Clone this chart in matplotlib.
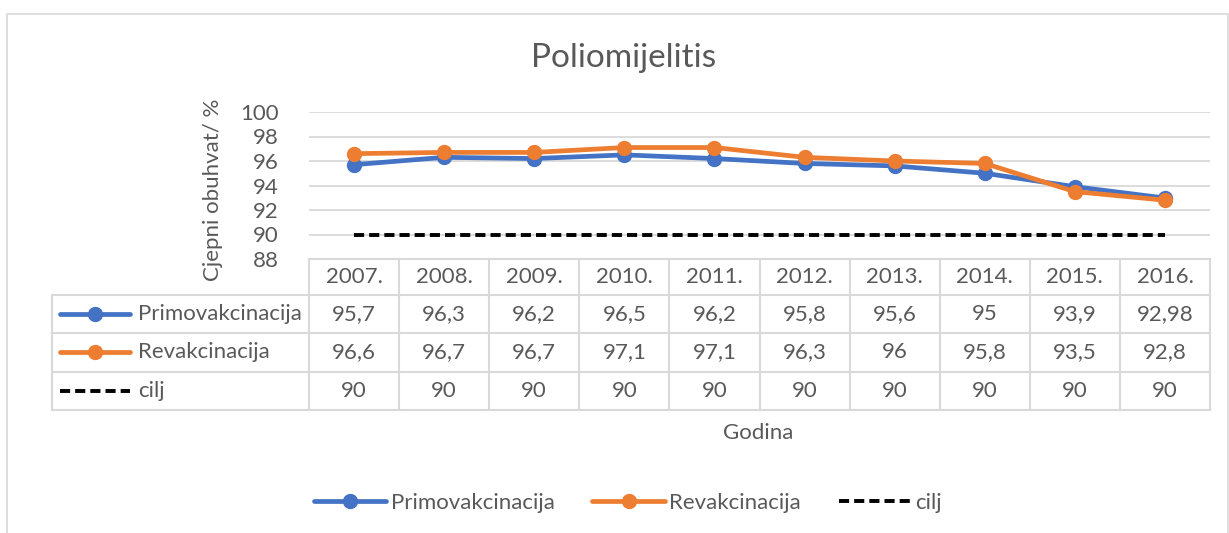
import numpy as np
import matplotlib
matplotlib.use('Agg')
import matplotlib.pyplot as plt
import matplotlib.transforms as mtransforms
from matplotlib.lines import Line2D
from matplotlib.patches import Rectangle

# data
years = ['2007.', '2008.', '2009.', '2010.', '2011.', '2012.', '2013.', '2014.', '2015.', '2016.']
primo = [95.7, 96.3, 96.2, 96.5, 96.2, 95.8, 95.6, 95.0, 93.9, 92.98]
revak = [96.6, 96.7, 96.7, 97.1, 97.1, 96.3, 96.0, 95.8, 93.5, 92.8]
cilj = [90, 90, 90, 90, 90, 90, 90, 90, 90, 90]
series_names = ['Primovakcinacija', 'Revakcinacija', 'cilj']

BLUE = '#4472C4'
ORANGE = '#ED7D31'
TXT = '#595959'
GRID = '#D9D9D9'
FS = 16

plt.rcParams['font.family'] = ['Lato', 'DejaVu Sans']

W, H = 1229, 533
fig = plt.figure(figsize=(W/100, H/100), dpi=100)

def fx(px):
    return px / W

def fy(py):
    return 1 - py / H

# outer chart border
fig.patches.append(Rectangle((fx(7), fy(560)), fx(1221), fy(14) - fy(560),
                             transform=fig.transFigure, fill=False,
                             edgecolor=GRID, lw=1.2))

ax = fig.add_axes([fx(309), fy(259), fx(1210) - fx(309), fy(112) - fy(259)])
x = np.arange(len(years))

DASH = (0, (2.6, 1.3))
ax.plot(x, primo, color=BLUE, lw=3.4, marker='o', ms=10, solid_capstyle='round', zorder=3)
ax.plot(x, revak, color=ORANGE, lw=3.4, marker='o', ms=10, solid_capstyle='round', zorder=4)
ax.plot(x, cilj, color='black', lw=2.8, ls=DASH, zorder=3)

ax.set_xlim(-0.5, len(years) - 0.5)
ax.set_ylim(88, 100)
ax.set_yticks(np.arange(88, 101, 2))
ax.set_xticks([])
ax.tick_params(axis='y', length=0, labelsize=FS, labelcolor=TXT, pad=22)
ax.grid(axis='y', color=GRID, lw=1.3)
ax.set_axisbelow(True)
for s in ax.spines.values():
    s.set_visible(False)

fig.text(fx(213), fy(190), 'Cjepni obuhvat/ %', rotation=90, ha='center', va='center',
         fontsize=FS, color=TXT)
fig.text(fx(624), fy(58), 'Poliomijelitis', ha='center', va='center', fontsize=24, color=TXT)
fig.text(fx(758), fy(433), 'Godina', ha='center', va='center', fontsize=FS, color=TXT)

# data table below the axes
tr = mtransforms.blended_transform_factory(ax.transData, ax.transAxes)
axh = 259 - 112
def ay(py):
    return (259 - py) / axh

row_edges = [259, 295, 333, 372, 410]
xl = (52 - 309) / 90.1 - 0.5
n = len(years)
lk = dict(color=GRID, lw=1.5, transform=tr, clip_on=False)
# horizontal lines
ax.plot([-0.5, n - 0.5], [ay(259)] * 2, **lk)
for py in row_edges[1:]:
    ax.plot([xl, n - 0.5], [ay(py)] * 2, **lk)
# vertical lines
for i in range(n + 1):
    ax.plot([i - 0.5] * 2, [ay(259), ay(410)], **lk)
ax.plot([xl] * 2, [ay(295), ay(410)], **lk)

rows = [primo, revak, cilj]
def fmt(v):
    s = ('%g' % v).replace('.', ',')
    return s
for i, yr in enumerate(years):
    ax.text(i, ay((259 + 295) / 2), yr, transform=tr, ha='center', va='center',
            fontsize=FS, color=TXT, clip_on=False)
    for r, vals in enumerate(rows):
        ax.text(i, ay((row_edges[r + 1] + row_edges[r + 2]) / 2), fmt(vals[i]), transform=tr,
                ha='center', va='center', fontsize=FS, color=TXT, clip_on=False)

styles = [dict(color=BLUE, lw=3.4, marker='o', ms=10),
          dict(color=ORANGE, lw=3.4, marker='o', ms=10),
          dict(color='black', lw=2.8, ls=DASH)]
kx0 = (60 - 309) / 90.1 - 0.5
kx1 = (130 - 309) / 90.1 - 0.5
tx = (138 - 309) / 90.1 - 0.5
for r, name in enumerate(series_names):
    ymid = ay((row_edges[r + 1] + row_edges[r + 2]) / 2)
    st = dict(styles[r])
    mk = st.pop('marker', None)
    ms = st.pop('ms', None)
    ax.add_line(Line2D([kx0, kx1], [ymid, ymid], transform=tr, clip_on=False,
                       solid_capstyle='round', **st))
    if mk:
        ax.add_line(Line2D([(kx0 + kx1) / 2], [ymid], transform=tr, clip_on=False,
                           marker=mk, ms=ms, color=st['color'], lw=0))
    ax.text(tx, ymid, name, transform=tr, ha='left', va='center', fontsize=FS,
            color=TXT, clip_on=False)

# bottom legend
handles = [Line2D([], [], solid_capstyle='round', **styles[0]),
           Line2D([], [], solid_capstyle='round', **styles[1]),
           Line2D([], [], **styles[2])]
fig.legend(handles, series_names, loc='center', bbox_to_anchor=(fx(628), fy(503)),
           ncol=3, frameon=False, fontsize=FS, labelcolor=TXT, handlelength=3.25,
           handletextpad=0.2, columnspacing=1.7)

fig.savefig('out.png', dpi=100)
